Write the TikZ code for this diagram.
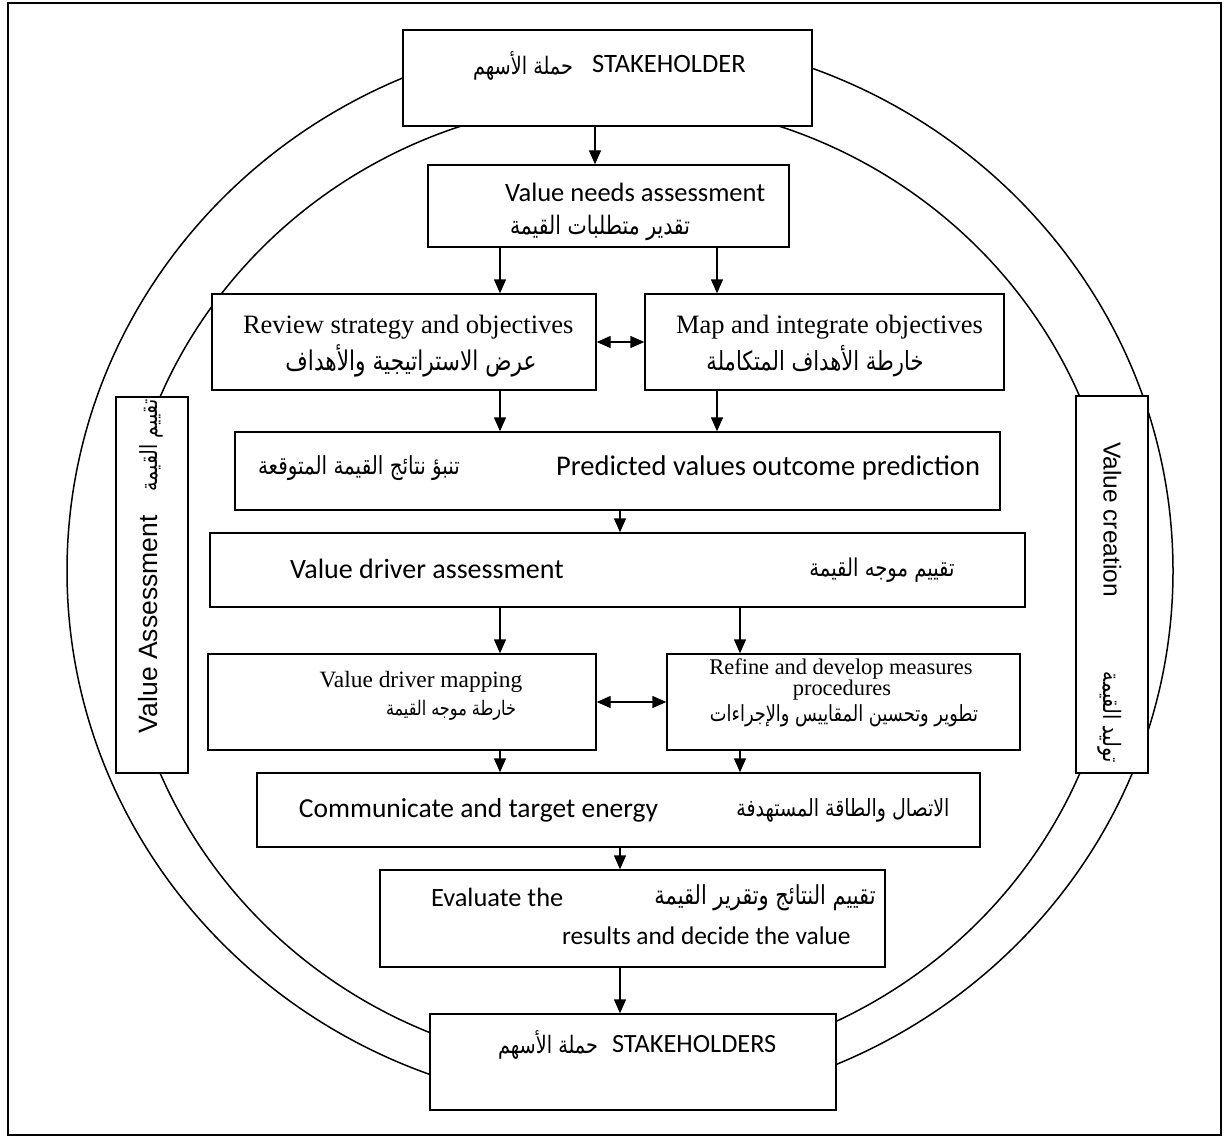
\documentclass[tikz,border=0pt]{standalone}
\usepackage{fontspec}
\usepackage{graphicx}
\usetikzlibrary{arrows.meta}
\setmainfont{Liberation Serif}
\newfontfamily\calib{Carlito}
\newfontfamily\timesf{Liberation Serif}
\newfontfamily\arialf{Liberation Sans}
\newfontfamily\arabicfont[Script=Arabic]{DejaVu Sans}
\TeXXeTstate=1
\newcommand\fsz[1]{\fontsize{#1pt}{#1pt}\selectfont}
% Arabic phrase squeezed to a given width (in pt), a little taller
\newcommand\arw[2]{\scalebox{1}[1.25]{\resizebox{#1pt}{!}{\arabicfont #2}}}

\begin{document}
\begin{tikzpicture}[x=1pt,y=-1pt,
  box/.style={draw=black, line width=1.4pt, fill=white, inner sep=0pt, rectangle},
  ring/.style={draw=black, line width=1.5pt},
  arr/.style={line width=1.4pt, -{Triangle[width=12pt,length=14pt]}},
  darr/.style={line width=1.4pt, {Triangle[width=12pt,length=14pt]}-{Triangle[width=12pt,length=14pt]}},
  txt/.style={inner sep=0pt, outer sep=0pt, text=black},
  cal/.style={txt, font={\calib\fsz{#1}}},
  tms/.style={txt, font={\timesf\fsz{#1}}},
  ari/.style={txt, font={\arialf\fsz{#1}}},
]
\useasboundingbox (0,0) rectangle (1227,1137);

% outer frame
\draw[line width=2.2pt] (8,3) rectangle (1221,1135);

% the two rings
\draw[ring] (620,571) ellipse [x radius=553, y radius=536];
\draw[ring] (620,585) ellipse [x radius=499, y radius=484];

% side panels
\node[box, minimum width=72pt, minimum height=376pt] (left)  at (152,585) {};
\node[box, minimum width=72pt, minimum height=377pt] (right) at (1112,584.5) {};

% process boxes
\node[box, minimum width=409pt, minimum height=96pt] (top)    at (607.5,78) {};
\node[box, minimum width=361pt, minimum height=82pt] (needs)  at (608.5,206) {};
\node[box, minimum width=384pt, minimum height=96pt] (review) at (404,342) {};
\node[box, minimum width=359pt, minimum height=96pt] (map)    at (824.5,342) {};
\node[box, minimum width=765pt, minimum height=78pt] (pred)   at (617.5,471) {};
\node[box, minimum width=815pt, minimum height=74pt] (vda)    at (617.5,570) {};
\node[box, minimum width=388pt, minimum height=96pt] (vdm)    at (402,702) {};
\node[box, minimum width=353pt, minimum height=96pt] (refine) at (843.5,702) {};
\node[box, minimum width=723pt, minimum height=74pt] (comm)   at (618.5,810) {};
\node[box, minimum width=505pt, minimum height=97pt] (eval)   at (632.5,918.5) {};
\node[box, minimum width=406pt, minimum height=96pt] (bottom) at (633,1062) {};

% vertical lanes of the arrows
\coordinate (lnA)  at (595,0);
\coordinate (lnL)  at (500,0);
\coordinate (lnR)  at (717,0);
\coordinate (lnC)  at (620,0);
\coordinate (lnR2) at (740,0);

\draw[arr] (top.south -| lnA) -- (needs.north -| lnA);
\draw[arr] (needs.south -| lnL) -- (review.north -| lnL);
\draw[arr] (needs.south -| lnR) -- (map.north -| lnR);
\draw[darr] (review.east) -- (map.west);
\draw[arr] (review.south -| lnL) -- (pred.north -| lnL);
\draw[arr] (map.south -| lnR) -- (pred.north -| lnR);
\draw[arr] (pred.south -| lnC) -- (vda.north -| lnC);
\draw[arr] (vda.south -| lnL) -- (vdm.north -| lnL);
\draw[arr] (vda.south -| lnR2) -- (refine.north -| lnR2);
\draw[darr] (vdm.east) -- (refine.west);
\draw[arr] (vdm.south -| lnL) -- (comm.north -| lnL);
\draw[arr] (refine.south -| lnR2) -- (comm.north -| lnR2);
\draw[arr] (comm.south -| lnC) -- (eval.north -| lnC);
\draw[arr] (eval.south -| lnC) -- (bottom.north -| lnC);

% texts
\node[cal=26.5, anchor=mid west] (topEn) at (592,70) {STAKEHOLDER};
\node[txt] (topAr) at (523,66) {\arw{100}{\beginR حملة الأسهم\endR}};

\node[cal=26.5, anchor=mid west] (needsEn) at (505,199) {Value needs assessment};
\node[txt] (needsAr) at (600,228) {\arw{180}{\beginR تقدير متطلبات القيمة\endR}};

\node[tms=26.5, anchor=mid west] (reviewEn) at (243,331) {Review strategy and objectives};
\node[txt] (reviewAr) at (411,361) {\arw{251}{\beginR عرض الاستراتيجية والأهداف\endR}};

\node[tms=26.5, anchor=mid west] (mapEn) at (676,331) {Map and integrate objectives};
\node[txt] (mapAr) at (815,361) {\arw{217}{\beginR خارطة الأهداف المتكاملة\endR}};

\node[txt] (predAr) at (359,468) {\arw{202}{\beginR تنبؤ نتائج القيمة المتوقعة\endR}};
\node[cal=28.5, anchor=mid east] (predEn) at (980,473) {Predicted values outcome prediction};

\node[cal=28, anchor=mid west] (vdaEn) at (290,576) {Value driver assessment};
\node[txt] (vdaAr) at (882,570) {\arw{145}{\beginR تقييم موجه القيمة\endR}};

\node[tms=23.4, anchor=mid] (vdmEn) at (421,685) {Value driver mapping};
\node[txt] (vdmAr) at (451,710) {\arw{130}{\beginR خارطة موجه القيمة\endR}};

\node[tms=22.4, anchor=mid] (refEn1) at (841,672) {Refine and develop measures};
\node[tms=22.4, anchor=mid] (refEn2) at (842,693) {procedures};
\node[txt] (refAr) at (844,716) {\arw{268}{\beginR تطوير وتحسين المقاييس والإجراءات\endR}};

\node[cal=27.5, anchor=mid east] (commEn) at (658,815) {Communicate and target energy};
\node[txt] (commAr) at (843,810) {\arw{213}{\beginR الاتصال والطاقة المستهدفة\endR}};

\node[cal=26.4, anchor=mid west] (evalEn1) at (431,904) {Evaluate the};
\node[txt] (evalAr) at (765,898) {\arw{221}{\beginR تقييم النتائج وتقرير القيمة\endR}};
\node[cal=25.4, anchor=mid west] (evalEn2) at (562,942) {results and decide the value};

\node[cal=26.3, anchor=mid west] (botEn) at (612,1050) {STAKEHOLDERS};
\node[txt] (botAr) at (548,1045) {\arw{100}{\beginR حملة الأسهم\endR}};

% rotated side captions
\node[ari=26.5, rotate=90, anchor=mid west] (leftLbl) at (155,733)
  {Value Assessment\hspace{24pt}\arw{92}{\beginR تقييم القيمة\endR}};
\node[ari=24.5, rotate=-90, anchor=mid west] (rightLbl) at (1106,442)
  {Value creation\hspace{75pt}\arw{91}{\beginR توليد القيمة\endR}};
\end{tikzpicture}
\end{document}
